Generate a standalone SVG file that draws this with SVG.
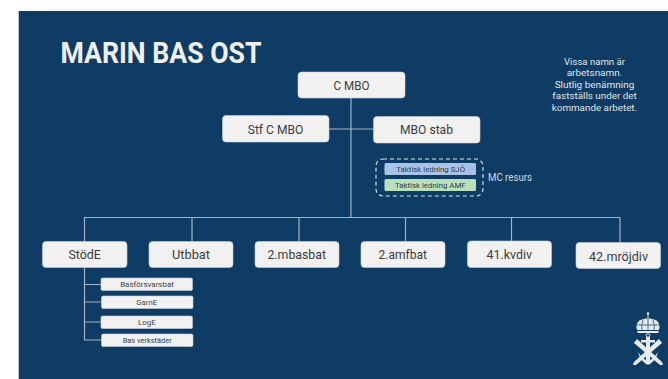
<svg xmlns="http://www.w3.org/2000/svg" width="668" height="379" viewBox="0 0 668 379">
<style>
text{font-family:Roboto,"Liberation Sans",sans-serif;text-anchor:middle}
.n{fill:#f1f1f1;stroke:#c9d0d8;stroke-width:.6}
.l{font-size:13.500px;fill:#3c3c3c}
.s{font-size:7.500px;fill:#404040}
.t{font-size:7.800px;fill:#2f3b45}
.c{stroke:#a3b2c2;stroke-width:1.200;fill:none}
.w{fill:#dfe5ea;font-size:9.600px}
.g{fill:#e6eaee;stroke:none}
.gs{stroke:#e6eaee;fill:none}
</style>
<rect width="668" height="379" fill="#ffffff"/>
<rect x="18.500" y="11" width="649.500" height="368" fill="#0f3c64"/>
<line x1="18.500" y1="11" x2="18.500" y2="379" stroke="#c5cdd5" stroke-width=".8"/>
<text x="161" y="63" textLength="201" lengthAdjust="spacingAndGlyphs" style="font-size:29px;font-weight:700;fill:#f0f0f0">MARIN BAS OST</text>
<g id="connectors" class="c">
<path d="M351 98V218"/>
<path d="M329 129H374"/>
<path d="M84.500 241.500V217.500H620V242.500"/>
<path d="M192 217.500V241.500M299 217.500V241.500M405.500 217.500V241.500M511.500 217.500V241"/>
<path d="M84.500 267.500V340H101.500M84.500 284.500H101M84.500 302H101.500M84.500 322H101"/>
</g>
<g id="c-mbo"><rect class="n" x="298" y="72" width="107" height="26" rx="3.500"/><text class="l" x="351.500" y="89.500" textLength="36" lengthAdjust="spacingAndGlyphs">C MBO</text></g>
<g id="stf-c-mbo"><rect class="n" x="222.500" y="115.500" width="106.500" height="26.500" rx="3.500"/><text class="l" x="275.500" y="133.500" textLength="55.500" lengthAdjust="spacingAndGlyphs">Stf C MBO</text></g>
<g id="mbo-stab"><rect class="n" x="373.500" y="116.500" width="106.500" height="26.500" rx="3.500"/><text class="l" x="426.500" y="134.300" textLength="53" lengthAdjust="spacingAndGlyphs">MBO stab</text></g>
<g id="mc-resurs">
<rect x="376" y="159" width="107" height="37" rx="7" fill="none" stroke="#dfe5ea" stroke-width="1.100" stroke-dasharray="4 3"/>
<rect x="384.500" y="163" width="91.500" height="12" rx="1.500" fill="#a9c2e8"/>
<text class="t" x="430.700" y="171.500" textLength="68.700" lengthAdjust="spacingAndGlyphs">Taktisk ledning SJÖ</text>
<rect x="384.500" y="179" width="91.500" height="12" rx="1.500" fill="#b9e0bb"/>
<text class="t" x="430.300" y="188" textLength="70.700" lengthAdjust="spacingAndGlyphs">Taktisk ledning AMF</text>
<text x="510" y="181" textLength="44" lengthAdjust="spacingAndGlyphs" style="font-size:10px;fill:#cfd7de">MC resurs</text>
</g>
<g id="note">
<text class="w" x="594.500" y="64.500" textLength="61" lengthAdjust="spacingAndGlyphs">Vissa namn är</text>
<text class="w" x="594.500" y="76" textLength="55.700" lengthAdjust="spacingAndGlyphs">arbetsnamn.</text>
<text class="w" x="594.500" y="87.700" textLength="79.700" lengthAdjust="spacingAndGlyphs">Slutlig benämning</text>
<text class="w" x="594.500" y="99.300" textLength="84.300" lengthAdjust="spacingAndGlyphs">fastställs under det</text>
<text class="w" x="594.500" y="111" textLength="85.300" lengthAdjust="spacingAndGlyphs">kommande arbetet.</text>
</g>
<g id="stode"><rect class="n" x="42.500" y="241.500" width="84.500" height="26" rx="3.500"/><text class="l" x="84.700" y="259.300" textLength="32.500" lengthAdjust="spacingAndGlyphs">StödE</text></g>
<g id="utbbat"><rect class="n" x="149" y="241.500" width="84" height="26" rx="3.500"/><text class="l" x="191" y="259.300" textLength="38" lengthAdjust="spacingAndGlyphs">Utbbat</text></g>
<g id="mbasbat"><rect class="n" x="255" y="241.500" width="84" height="26" rx="3.500"/><text class="l" x="296.700" y="259.300" textLength="58.500" lengthAdjust="spacingAndGlyphs">2.mbasbat</text></g>
<g id="amfbat"><rect class="n" x="361" y="241.500" width="84" height="26" rx="3.500"/><text class="l" x="402.700" y="259.300" textLength="48.500" lengthAdjust="spacingAndGlyphs">2.amfbat</text></g>
<g id="kvdiv"><rect class="n" x="467.500" y="241" width="84" height="26.500" rx="3.500"/><text class="l" x="509.200" y="258.700" textLength="45.500" lengthAdjust="spacingAndGlyphs">41.kvdiv</text></g>
<g id="mrojdiv"><rect class="n" x="576" y="242.500" width="84.500" height="26" rx="3.500"/><text class="l" x="618.500" y="260.700" textLength="59" lengthAdjust="spacingAndGlyphs">42.mröjdiv</text></g>
<g id="basforsvarsbat"><rect class="n" x="101" y="278" width="91.500" height="12.500" rx="1.500"/><text class="s" x="147" y="287" textLength="53.700" lengthAdjust="spacingAndGlyphs">Basförsvarsbat</text></g>
<g id="garne"><rect class="n" x="101.500" y="296" width="91.500" height="12.500" rx="1.500"/><text class="s" x="146.700" y="305" textLength="20.700" lengthAdjust="spacingAndGlyphs">GarnE</text></g>
<g id="loge"><rect class="n" x="101" y="316" width="91.500" height="12.500" rx="1.500"/><text class="s" x="146.800" y="325" textLength="17.700" lengthAdjust="spacingAndGlyphs">LogE</text></g>
<g id="bas-verkstader"><rect class="n" x="101.500" y="334" width="91.500" height="12.500" rx="1.500"/><text class="s" x="147.200" y="342.500" textLength="49" lengthAdjust="spacingAndGlyphs">Bas verkstäder</text></g>
<g id="logo">
<path class="g" d="M637 330C635.500 325 637.500 320.500 642 319.500C644.500 318 651.500 318 654 319.500C658.500 320.500 660.500 325 659 330Z"/>
<path stroke="#0f3c64" fill="none" stroke-width=".7" d="M648 319V330M643 320Q641 325 642 330M653 320Q655 325 654 330M637 325H659"/>
<rect class="g" x="647.500" y="313" width="1" height="5"/>
<circle class="g" cx="648" cy="313.500" r="1.200"/>
<rect class="g" x="637.500" y="331" width="21" height="2"/>
<circle class="gs" cx="648" cy="335.500" r="1.800" stroke-width="1"/>
<rect class="g" x="646" y="337" width="4" height="27"/>
<rect class="g" x="641" y="340" width="14" height="2.500"/>
<path class="g" d="M634 343L637 339L662 362L663 365L660 365Z"/>
<path class="g" d="M662 343L659 339L634 362L633 365L636 365Z"/>
<path class="g" d="M638 352Q640 361 648 365Q656 361 658 352L655 356Q652 360 648 361Q644 360 641 356Z"/>
</g>
</svg>
